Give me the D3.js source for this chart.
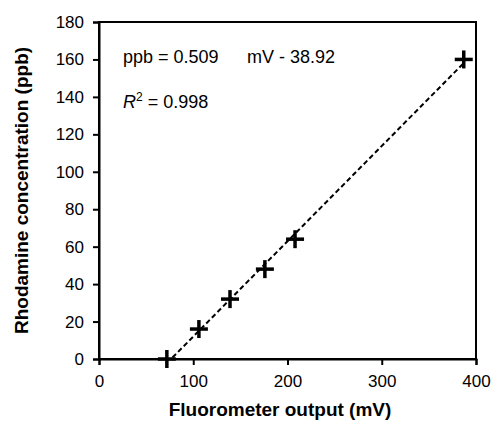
<!doctype html>
<html>
<head>
<meta charset="UTF-8">
<title>Rhodamine calibration</title>
<script src="https://d3js.org/d3.v7.min.js"></script>
<style>
  body { margin: 0; background: #fff; }
  svg text { font-family: "Liberation Sans", Arial, sans-serif; fill: #000; }
  .tick text { font-size: 17px; }
  .axis-title { font-size: 19px; font-weight: bold; }
  .note { font-size: 18px; }
</style>
</head>
<body>
<svg id="chart" width="493" height="423"></svg>
<script>
// Calibration points
const mvValues = [72, 106, 139, 176, 208, 387];
const ppbValues = [0, 16, 32, 48, 64, 160];
const xTicks = [0, 100, 200, 300, 400];
const yTicks = [0, 20, 40, 60, 80, 100, 120, 140, 160, 180];
const slope = 0.509, intercept = -38.92;

const svg = d3.select("#chart");
const margin = {left: 99, right: 17, top: 22, bottom: 64};
const width = 493 - margin.left - margin.right;
const height = 423 - margin.top - margin.bottom;

const x = d3.scaleLinear().domain([0, 400]).range([0, width]);
const y = d3.scaleLinear().domain([0, 180]).range([height, 0]);

const g = svg.append("g").attr("transform", `translate(${margin.left},${margin.top})`);

g.append("clipPath").attr("id", "clip")
  .append("rect").attr("width", width).attr("height", height);

// frame
g.append("rect")
  .attr("width", width).attr("height", height)
  .attr("fill", "none").attr("stroke", "#000").attr("stroke-width", 2);

const xAxis = g.append("g").attr("transform", `translate(0,${height})`)
  .call(d3.axisBottom(x).tickValues(xTicks).tickSize(6).tickPadding(10));
const yAxis = g.append("g")
  .call(d3.axisLeft(y).tickValues(yTicks).tickSize(6).tickPadding(9));
[xAxis, yAxis].forEach(a => {
  a.select(".domain").attr("stroke-width", 2);
  a.selectAll(".tick line").attr("stroke-width", 2);
});

// trend line
const xs = d3.extent(mvValues);
g.append("line")
  .attr("clip-path", "url(#clip)")
  .attr("x1", x(xs[0])).attr("y1", y(slope * xs[0] + intercept))
  .attr("x2", x(xs[1])).attr("y2", y(slope * xs[1] + intercept))
  .attr("stroke", "#000").attr("stroke-width", 2)
  .attr("stroke-dasharray", "5,3");

// plus markers
const pts = g.append("g").selectAll("g").data(mvValues).join("g")
  .attr("transform", (d, i) => `translate(${x(d)},${y(ppbValues[i])})`);
pts.append("line").attr("x1", -9).attr("x2", 9).attr("stroke", "#000").attr("stroke-width", 3.5);
pts.append("line").attr("y1", -9).attr("y2", 9).attr("stroke", "#000").attr("stroke-width", 3.5);

// annotations
g.append("text").attr("class", "note").attr("x", 24).attr("y", 41).text("ppb = 0.509");
g.append("text").attr("class", "note").attr("x", 148).attr("y", 41).text("mV - 38.92");
const r2 = g.append("text").attr("class", "note").attr("x", 24).attr("y", 86);
r2.append("tspan").style("font-style", "italic").text("R");
r2.append("tspan").attr("dy", -7).style("font-size", "12px").text("2");
r2.append("tspan").attr("dy", 7).text(" = 0.998");

// axis titles
svg.append("text").attr("class", "axis-title")
  .attr("x", 280).attr("y", 416)
  .attr("text-anchor", "middle").text("Fluorometer output (mV)");
svg.append("text").attr("class", "axis-title")
  .attr("transform", `translate(28,${margin.top + height / 2}) rotate(-90)`)
  .attr("text-anchor", "middle").text("Rhodamine concentration (ppb)");
</script>
</body>
</html>
